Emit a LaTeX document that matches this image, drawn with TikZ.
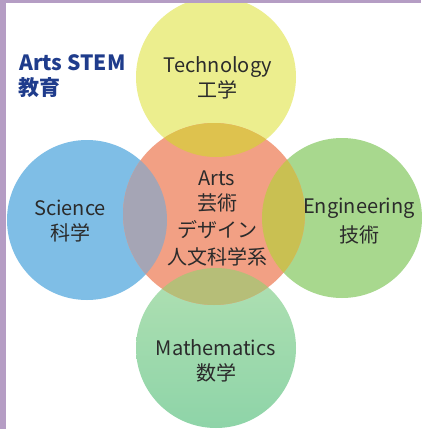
\documentclass[tikz,border=0pt]{standalone}
\usepackage{fontspec}
\setmainfont{Noto Sans CJK JP}
\newfontfamily\jp{Noto Sans CJK JP}
\definecolor{frame}{HTML}{B59DC4}
\definecolor{techc}{HTML}{ECEE8E}
\definecolor{scic}{HTML}{7FBEE6}
\definecolor{engc}{HTML}{A8D88E}
\definecolor{mathtop}{HTML}{B0E0B2}
\definecolor{mathbot}{HTML}{8ED4A8}
\definecolor{artsc}{HTML}{F2A084}
\definecolor{techarts}{HTML}{DEC24E}
\definecolor{sciarts}{HTML}{A5A5B5}
\definecolor{engarts}{HTML}{C9C052}
\definecolor{matharts}{HTML}{B6BE78}
\definecolor{txt}{HTML}{2B2B2B}
\definecolor{titlec}{HTML}{1F3C8C}
\begin{document}
\begin{tikzpicture}[x=1pt,y=-1pt,
  lat/.style={anchor=base,text=txt,inner sep=0pt,font=\jp\fontsize{20}{20}\selectfont},
  cjk/.style={anchor=center,text=txt,inner sep=0pt,font=\jp\fontsize{20}{20}\selectfont},
  ttl/.style={text=titlec,inner sep=0pt,font=\jp\bfseries\fontsize{21}{21}\selectfont}]
\useasboundingbox (0,0) rectangle (421,429);
\fill[white] (0,0) rectangle (421,429);
% circles
\coordinate (cT) at (216,77);
\coordinate (cS) at (87,220);
\coordinate (cE) at (342,218);
\coordinate (cM) at (216,348);
\coordinate (cA) at (214,214);
\fill[techc] (cT) circle (80);
\fill[scic] (cS) circle (80);
\fill[engc] (cE) circle (80);
\shade[top color=mathtop,bottom color=mathbot] (cM) circle (80);
\fill[artsc] (cA) circle (91);
\begin{scope}
  \clip (cA) circle (91);
  \fill[techarts] (cT) circle (80);
  \fill[sciarts] (cS) circle (80);
  \fill[engarts] (cE) circle (80);
  \fill[matharts] (cM) circle (80);
\end{scope}
% frame
\fill[frame] (0,0) rectangle (6,429);
\fill[frame] (0,0) rectangle (421,3);
% texts
\node[ttl,anchor=base west] (t1) at (19,70) {Arts STEM};
\node[ttl,anchor=west] (t2) at (18,88) {教育};
\node[lat] (tech1) at (218,72) {Technology};
\node[cjk] (tech2) at (217,90) {工学};
\node[lat] (sci1) at (70,215) {Science};
\node[cjk] (sci2) at (70,233) {科学};
\node[lat] (eng1) at (359,213) {Engineering};
\node[cjk] (eng2) at (359,235) {技術};
\node[lat] (math1) at (216,355) {Mathematics};
\node[cjk] (math2) at (216,373) {数学};
\node[lat] (arts1) at (217,185) {Arts};
\node[cjk] (arts2) at (217,203) {芸術};
\node[cjk] (arts3) at (217,230) {デザイン};
\node[cjk] (arts4) at (217,257) {人文科学系};
\end{tikzpicture}
\end{document}
